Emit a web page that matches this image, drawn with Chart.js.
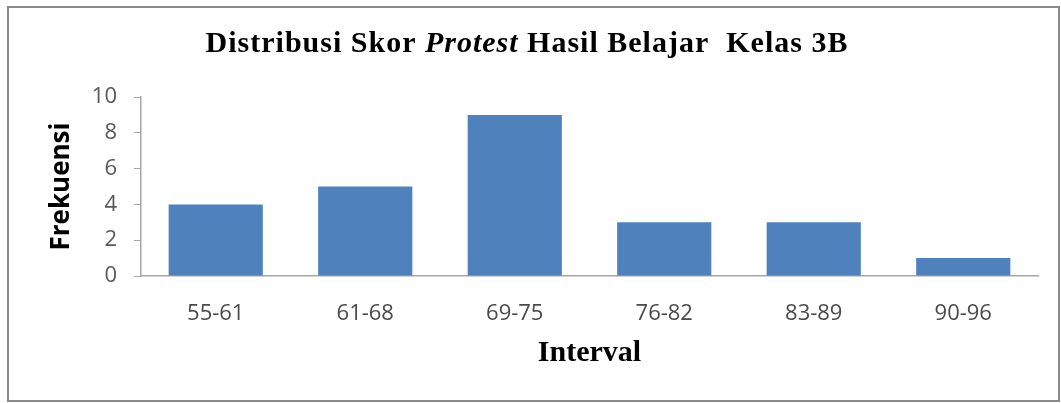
<!DOCTYPE html>
<html lang="id">

<head>
    <meta charset="UTF-8">
    <title>Distribusi Skor Protest Hasil Belajar Kelas 3B</title>
    <script src="https://cdn.jsdelivr.net/npm/chart.js"></script>
    <style>
        html, body { margin: 0; padding: 0; background: #fff; }
        .box { width: 1061px; height: 403px; }
    </style>
</head>

<body>
    <div class="box">
        <canvas id="grafik" width="1061" height="403"></canvas>
    </div>

    <script>
        // data
        var intervalLabels = ['55-61', '61-68', '69-75', '76-82', '83-89', '90-96'];
        var frekuensi = [4, 5, 9, 3, 3, 1];
        var yTicks = [0, 2, 4, 6, 8, 10];
        var judul = ['Distribusi Skor ', 'Protest', ' Hasil Belajar  Kelas 3B'];

        var sans = "'Open Sans', sans-serif";
        var serif = "'Liberation Serif', 'Times New Roman', serif";

        // bingkai + judul dengan kata "Protest" miring
        var bingkaiJudul = {
            id: 'bingkaiJudul',
            beforeDraw: function (chart) {
                var ctx = chart.ctx;
                ctx.save();
                ctx.fillStyle = '#fff';
                ctx.fillRect(0, 0, chart.width, chart.height);
                ctx.strokeStyle = '#8a8a8a';
                ctx.lineWidth = 2;
                ctx.strokeRect(8, 7, 1051, 394);
                ctx.restore();
            },
            afterDraw: function (chart) {
                var ctx = chart.ctx;
                ctx.save();
                ctx.fillStyle = '#000';
                ctx.textBaseline = 'middle';
                ctx.letterSpacing = '1px';
                var fonts = ['bold 30px ' + serif, 'italic bold 30px ' + serif, 'bold 30px ' + serif];
                var total = 0;
                judul.forEach(function (t, i) {
                    ctx.font = fonts[i];
                    total += ctx.measureText(t).width;
                });
                var x = 527 - total / 2;
                judul.forEach(function (t, i) {
                    ctx.font = fonts[i];
                    ctx.fillText(t, x, 44);
                    x += ctx.measureText(t).width;
                });
                ctx.restore();
            }
        };

        var ctx = document.getElementById('grafik').getContext('2d');
        new Chart(ctx, {
            type: 'bar',
            data: {
                labels: intervalLabels,
                datasets: [{
                    label: 'Frekuensi',
                    data: frekuensi,
                    backgroundColor: '#4F81BD',
                    borderWidth: 0,
                    barPercentage: 0.63,
                    categoryPercentage: 1
                }]
            },
            options: {
                responsive: false,
                animation: false,
                layout: { padding: { left: 40, right: 23, top: 97, bottom: 0 } },
                plugins: {
                    legend: { display: false },
                    title: { display: false },
                    tooltip: { enabled: false }
                },
                scales: {
                    x: {
                        grid: { display: false },
                        border: { display: true, color: '#a6a6a6', width: 1.5 },
                        ticks: { color: '#4a4a4a', padding: 17, font: { family: sans, size: 22 } },
                        title: {
                            display: true,
                            text: 'Interval',
                            color: '#000',
                            padding: { top: 0, bottom: 32 },
                            font: { family: serif, size: 30, weight: 'bold' }
                        },
                        afterFit: function (s) { s.height = 127; }
                    },
                    y: {
                        min: 0,
                        max: 10,
                        afterBuildTicks: function (s) {
                            s.ticks = yTicks.map(function (v) { return { value: v }; });
                        },
                        grid: { drawOnChartArea: false, tickLength: 7, color: '#a6a6a6' },
                        border: { display: true, color: '#a6a6a6', width: 1.5 },
                        ticks: { color: '#595959', padding: 17, font: { family: sans, size: 22 } },
                        title: {
                            display: true,
                            text: 'Frekuensi',
                            color: '#000',
                            padding: { top: 6, bottom: 0 },
                            font: { family: sans, size: 26, weight: 'bold' }
                        },
                        afterFit: function (s) { s.width = 101; }
                    }
                }
            },
            plugins: [bingkaiJudul]
        });
    </script>
</body>

</html>
